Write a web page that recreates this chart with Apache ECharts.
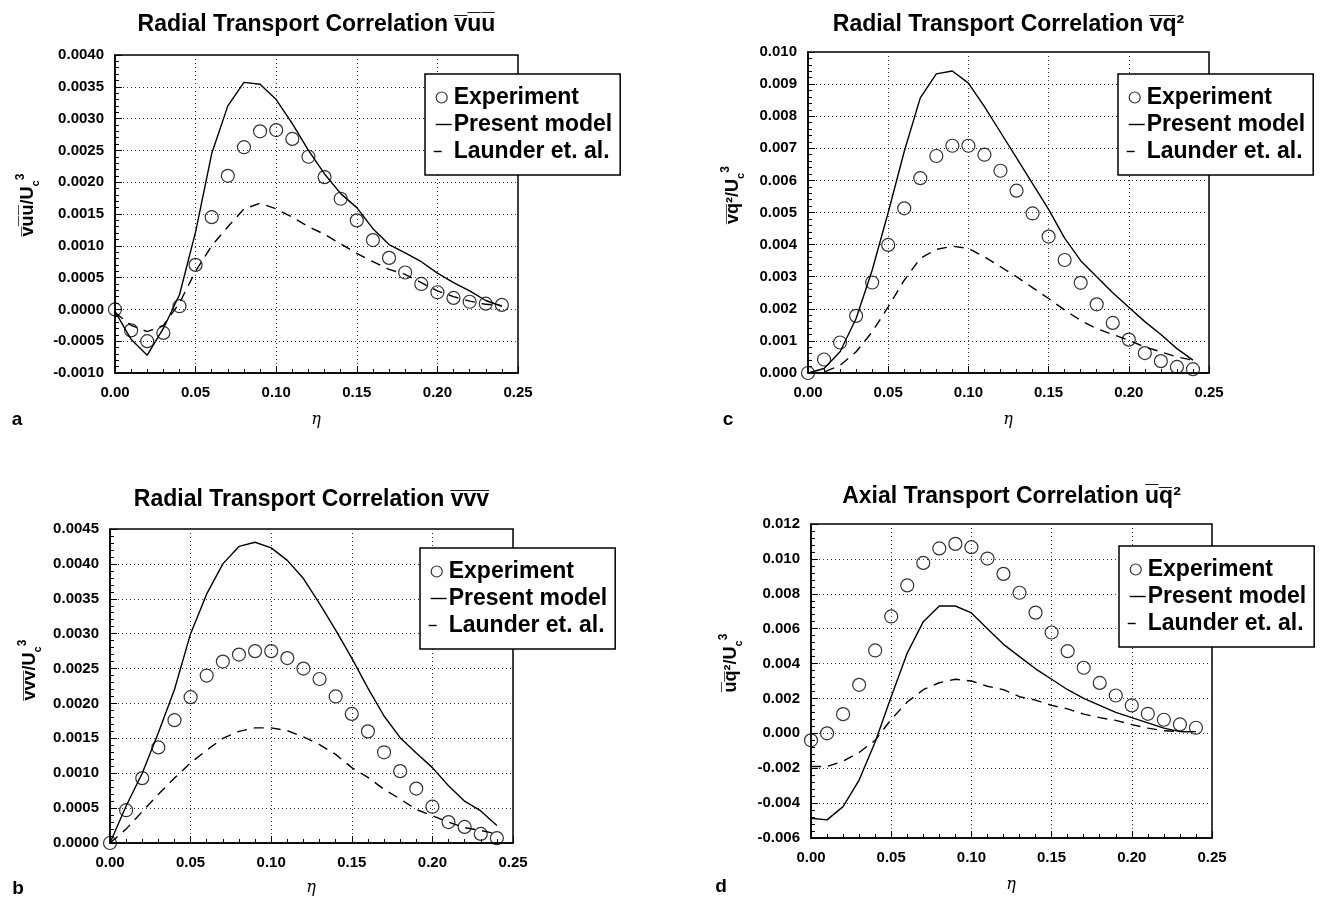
<!DOCTYPE html>
<html>
<head>
<meta charset="utf-8">
<script src="https://cdn.jsdelivr.net/npm/echarts@6/dist/echarts.min.js"></script>
<style>
html,body{margin:0;padding:0;background:#fff;}
#chart{width:1330px;height:897px;}
</style>
</head>
<body>
<div id="chart"></div>
<script>
// ---- data ----
const eta = [0.00,0.01,0.02,0.03,0.04,0.05,0.06,0.07,0.08,0.09,0.10,0.11,0.12,0.13,0.14,0.15,0.16,0.17,0.18,0.19,0.20,0.21,0.22,0.23,0.24];
const seriesNames = ['Experiment', 'Present model', 'Launder et. al.'];

// panel a: vuu
const aExp = [0.0000,-0.00033,-0.0005,-0.00037,0.00005,0.0007,0.00145,0.0021,0.00255,0.0028,0.00282,0.00268,0.0024,0.00208,0.00174,0.0014,0.00109,0.00081,0.00058,0.0004,0.00027,0.00018,0.00012,0.00009,0.00007];
const aModel = [-0.00003,-0.00047,-0.00072,-0.0003,0.00023,0.00122,0.00245,0.0032,0.00357,0.00354,0.0033,0.00292,0.0025,0.00213,0.00182,0.0016,0.00127,0.00102,0.00089,0.00075,0.00057,0.00042,0.00029,0.00014,0.00005];
const aLaunder = [-0.00005,-0.00025,-0.00035,-0.00025,0.0001,0.0006,0.001,0.0013,0.00158,0.00167,0.00158,0.00145,0.0013,0.00118,0.00103,0.00088,0.00075,0.00063,0.00055,0.00042,0.00029,0.0002,0.00013,0.00008,0.00006];
// panel c: vq^2
const cExp = [0.0000,0.00042,0.00095,0.00178,0.00282,0.00399,0.00513,0.00607,0.00676,0.00708,0.00708,0.0068,0.0063,0.00568,0.00497,0.00425,0.00352,0.00281,0.00214,0.00156,0.00104,0.00062,0.00037,0.00019,0.00012];
const cModel = [0.0000,0.00014,0.00066,0.0017,0.0032,0.005,0.0069,0.00857,0.00932,0.00941,0.00903,0.0083,0.0075,0.0067,0.0059,0.0051,0.0042,0.0035,0.0030,0.0025,0.00205,0.0016,0.0012,0.00076,0.0004];
const cLaunder = [0.0000,0.00003,0.00024,0.00066,0.00128,0.00206,0.00289,0.00357,0.00385,0.00395,0.00388,0.00362,0.00331,0.003,0.00266,0.00232,0.00196,0.00164,0.00138,0.0012,0.00102,0.00081,0.00066,0.0005,0.0004];
// panel b: vvv
const bExp = [0.0000,0.00047,0.00093,0.00137,0.00176,0.00209,0.0024,0.0026,0.0027,0.00275,0.00275,0.00265,0.0025,0.00235,0.0021,0.00185,0.0016,0.0013,0.00103,0.00078,0.00052,0.0003,0.00023,0.00013,0.00007];
const bModel = [0.0000,0.00053,0.001,0.00158,0.0022,0.003,0.00357,0.004,0.00425,0.00431,0.00423,0.00405,0.00379,0.00343,0.00305,0.00265,0.00222,0.00182,0.00151,0.00129,0.00108,0.00082,0.0006,0.00046,0.00025];
const bLaunder = [0.0000,0.0002,0.00045,0.0007,0.00093,0.00115,0.00133,0.0015,0.0016,0.00165,0.00165,0.00161,0.00152,0.00141,0.00127,0.00108,0.00094,0.00077,0.00063,0.00048,0.00039,0.0003,0.00022,0.00018,0.00013];
// panel d: uq^2
const dExp = [-0.0004,0.0000,0.0011,0.00278,0.00475,0.0067,0.00848,0.00977,0.0106,0.01086,0.01067,0.01002,0.00914,0.00806,0.00692,0.00578,0.00471,0.00376,0.00289,0.00217,0.0016,0.00112,0.00078,0.00051,0.00032];
const dModel = [-0.00487,-0.00496,-0.0042,-0.00268,-0.0005,0.0021,0.0046,0.0064,0.0073,0.0073,0.0069,0.006,0.0051,0.0044,0.0037,0.0031,0.0025,0.002,0.0016,0.0012,0.0009,0.0006,0.0003,0.0001,0.0001];
const dLaunder = [-0.0019,-0.0019,-0.0016,-0.0011,-0.0004,0.0008,0.0018,0.0025,0.0029,0.0031,0.003,0.0027,0.0025,0.0021,0.0019,0.0016,0.0014,0.0011,0.0009,0.00074,0.0005,0.0003,0.00015,0.0001,0.0001];

// tick labels
const xTickLabels = ['0.00','0.05','0.10','0.15','0.20','0.25'];
const aYTickLabels = ['-0.0010','-0.0005','0.0000','0.0005','0.0010','0.0015','0.0020','0.0025','0.0030','0.0035','0.0040'];
const cYTickLabels = ['0.000','0.001','0.002','0.003','0.004','0.005','0.006','0.007','0.008','0.009','0.010'];
const bYTickLabels = ['0.0000','0.0005','0.0010','0.0015','0.0020','0.0025','0.0030','0.0035','0.0040','0.0045'];
const dYTickLabels = ['-0.006','-0.004','-0.002','0.000','0.002','0.004','0.006','0.008','0.010','0.012'];

// titles & axis names
const titles = ['Radial Transport Correlation v\u0305u\u0305u\u0305', 'Radial Transport Correlation v\u0305q\u0305\u00b2', 'Radial Transport Correlation v\u0305v\u0305v\u0305', 'Axial Transport Correlation u\u0305q\u0305\u00b2'];
const yNames = ['v\u0305u\u0305u\u0305/U', 'v\u0305q\u0305\u00b2/U', 'v\u0305v\u0305v\u0305/U', 'u\u0305q\u0305\u00b2/U'];
const panelLetters = ['a', 'c', 'b', 'd'];
const xName = '\u03b7';

// ---- layout ----
const FONT = '"Liberation Sans", Arial, Helvetica, sans-serif';
const grids = [
  {left: 115, top: 55, width: 403, height: 318},
  {left: 808, top: 52, width: 401, height: 321},
  {left: 110, top: 529, width: 403, height: 314},
  {left: 811, top: 524, width: 401, height: 314}
];
const yAxisSpecs = [
  {min: -0.001, max: 0.004, interval: 0.0005, labels: aYTickLabels},
  {min: 0, max: 0.010, interval: 0.001, labels: cYTickLabels},
  {min: 0, max: 0.0045, interval: 0.0005, labels: bYTickLabels},
  {min: -0.006, max: 0.012, interval: 0.002, labels: dYTickLabels}
];
const panelData = [
  [aExp, aModel, aLaunder],
  [cExp, cModel, cLaunder],
  [bExp, bModel, bLaunder],
  [dExp, dModel, dLaunder]
];
const legendPos = [
  {left: 425, top: 74},
  {left: 1118, top: 74},
  {left: 420, top: 548},
  {left: 1119, top: 546}
];
const titlePos = [[316.5, 25], [1008.5, 25], [311.5, 500], [1011.5, 497]];
const yNamePos = [[28, 205], [733, 195], [30, 670], [731, 663]];
const etaPos = [[316, 420], [1008, 420], [311, 888], [1011, 885]];
const letterPos = [[17, 420], [728, 420], [18, 889], [721, 887]];

function pairs(ys) { return eta.map((x, i) => [x, ys[i]]); }
function labelFor(spec) {
  return function (v) {
    const idx = Math.round((v - spec.min) / spec.interval);
    return spec.labels[idx] !== undefined ? spec.labels[idx] : '';
  };
}
const xSpec = {min: 0, max: 0.25, interval: 0.05, labels: xTickLabels};

const grid = grids.map(g => Object.assign({show: true, borderColor: '#000', borderWidth: 1.5, backgroundColor: 'transparent', containLabel: false, outerBoundsMode: 'none'}, g));

const axisCommon = {
  axisLine: {show: true, onZero: false, lineStyle: {color: '#000', width: 1.5}},
  axisTick: {show: true, inside: true, length: 7, lineStyle: {color: '#000', width: 1}},
  minorTick: {show: true, splitNumber: 5, length: 4, lineStyle: {color: '#000', width: 1}},
  splitLine: {show: true, lineStyle: {type: [1, 3], color: '#333', width: 1}},
  minorSplitLine: {show: false}
};

const xAxis = grids.map((g, i) => Object.assign({
  type: 'value', gridIndex: i, min: xSpec.min, max: xSpec.max, interval: xSpec.interval,
  axisLabel: {formatter: labelFor(xSpec), color: '#000', fontSize: 15, fontWeight: 'bold', fontFamily: FONT, margin: 12}
}, JSON.parse(JSON.stringify(axisCommon))));

const yAxis = yAxisSpecs.map((s, i) => Object.assign({
  type: 'value', gridIndex: i, min: s.min, max: s.max, interval: s.interval,
  axisLabel: {formatter: labelFor(s), color: '#000', fontSize: 15, fontWeight: 'bold', fontFamily: FONT, margin: 11}
}, JSON.parse(JSON.stringify(axisCommon))));

const series = [];
panelData.forEach((arrs, i) => {
  series.push({
    name: seriesNames[0], type: 'scatter', xAxisIndex: i, yAxisIndex: i,
    data: pairs(arrs[0]), symbol: 'circle', symbolSize: 13,
    itemStyle: {color: 'transparent', borderColor: '#000', borderWidth: 1.2}, z: 3
  });
  series.push({
    name: seriesNames[1], type: 'line', xAxisIndex: i, yAxisIndex: i,
    data: pairs(arrs[1]), symbol: 'none', smooth: false,
    lineStyle: {color: '#000', width: 1.4}, itemStyle: {color: '#000'}, z: 2
  });
  series.push({
    name: seriesNames[2], type: 'line', xAxisIndex: i, yAxisIndex: i,
    data: pairs(arrs[2]), symbol: 'none', smooth: false,
    lineStyle: {color: '#000', width: 1.4, type: [10, 7]}, itemStyle: {color: '#000'}, z: 2
  });
});

const hiddenDot = {color: 'transparent', borderColor: 'transparent', borderWidth: 0};
const legend = legendPos.map(p => ({
  left: p.left, top: p.top, orient: 'vertical',
  backgroundColor: '#fff', borderColor: '#000', borderWidth: 1.5,
  padding: [11, 8, 11, 6], itemGap: 2, itemWidth: 20, itemHeight: 11,
  selectedMode: false,
  textStyle: {fontSize: 23, fontWeight: 'bold', fontFamily: FONT, color: '#000', lineHeight: 25, padding: [0, 0, 0, -3]},
  data: [
    {name: seriesNames[0], icon: 'circle', itemStyle: {color: 'transparent', borderColor: '#000', borderWidth: 1.2}},
    {name: seriesNames[1], itemStyle: hiddenDot, lineStyle: {color: '#000', width: 1.4, type: [16, 40], dashOffset: 52}},
    {name: seriesNames[2], itemStyle: hiddenDot, lineStyle: {color: '#000', width: 1.4, type: [8, 40], dashOffset: 46}}
  ]
}));

const graphic = [];
titles.forEach((t, i) => {
  graphic.push({type: 'text', x: titlePos[i][0], y: titlePos[i][1], silent: true,
    style: {text: t, fill: '#000', font: 'bold 23px ' + FONT, align: 'center', verticalAlign: 'middle'}});
  graphic.push({type: 'text', x: yNamePos[i][0], y: yNamePos[i][1], rotation: Math.PI / 2, silent: true,
    style: {text: '{m|' + yNames[i] + '}{s|c}{p|3}', align: 'center', verticalAlign: 'middle', fill: '#000',
      rich: {
        m: {font: 'bold 18px ' + FONT, fill: '#000', lineHeight: 26, verticalAlign: 'middle'},
        s: {font: 'bold 11px ' + FONT, fill: '#000', verticalAlign: 'bottom', lineHeight: 26},
        p: {font: 'bold 12px ' + FONT, fill: '#000', verticalAlign: 'top', lineHeight: 26}
      }}});
  graphic.push({type: 'text', x: etaPos[i][0], y: etaPos[i][1], silent: true,
    style: {text: xName, fill: '#000', font: 'italic 16px "DejaVu Serif", serif', align: 'center', verticalAlign: 'middle'}});
  graphic.push({type: 'text', x: letterPos[i][0], y: letterPos[i][1], silent: true,
    style: {text: panelLetters[i], fill: '#000', font: 'bold 19px ' + FONT, align: 'center', verticalAlign: 'middle'}});
});

const chart = echarts.init(document.getElementById('chart'), null, {renderer: 'canvas'});
chart.setOption({
  animation: false,
  backgroundColor: '#fff',
  grid: grid,
  xAxis: xAxis,
  yAxis: yAxis,
  legend: legend,
  series: series,
  graphic: graphic
});
</script>
</body>
</html>
